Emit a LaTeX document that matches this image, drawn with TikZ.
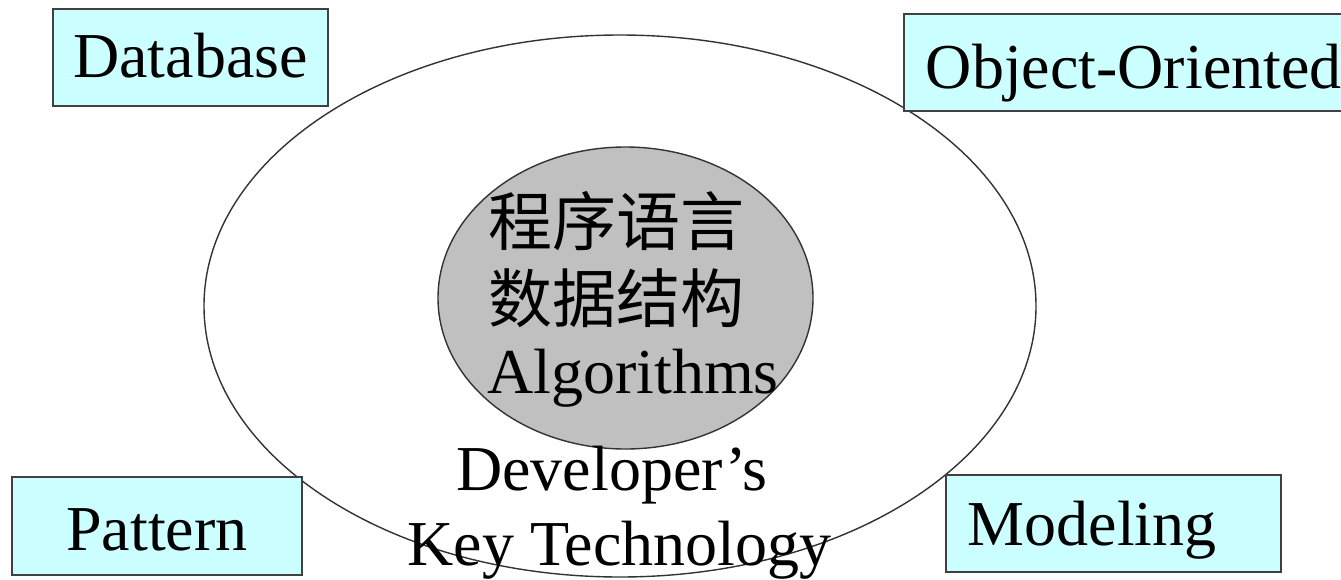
\documentclass[tikz,border=0pt]{standalone}
\usepackage{fontspec}
\setmainfont{Liberation Serif}
\newfontfamily\cjk{Noto Sans CJK SC}
\usetikzlibrary{shapes.geometric}
\definecolor{boxfill}{HTML}{CCFFFF}
\definecolor{boxline}{HTML}{404040}
\definecolor{corefill}{HTML}{C0C0C0}
\definecolor{ringline}{HTML}{333333}
\tikzset{
  big/.style={font=\fontsize{64pt}{77pt}\selectfont},
  topicbox/.style={big, draw=boxline, line width=1.6pt, fill=boxfill,
    rectangle, inner ysep=0pt},
  ring/.style={ellipse, draw=ringline, line width=1.4pt, inner sep=0pt},
  line/.style={big, inner sep=0pt},
}
\begin{document}
\begin{tikzpicture}[x=1pt, y=-1pt]
  \useasboundingbox (0,0) rectangle (1341,579);
  \clip (0,0) rectangle (1341,579);

  % outer ring and inner core
  \node[ring, minimum width=832pt, minimum height=542pt] (outer) at (620,306) {};
  \node[ring, fill=corefill, minimum width=375pt, minimum height=302pt] (core) at (625.5,298) {};

  % text of the core
  \node[line, anchor=base west] (lang) at (488,245) {\cjk 程序语言};
  \node[line, anchor=base west] (ds) at (488,322) {\cjk 数据结构};
  \node[line, anchor=base west] (algo) at (487,393) {Algorithms};

  % caption of the ring
  \node[line, anchor=base] (dev) at (612,490) {Developer’s};
  \node[line, anchor=base] (key) at (619.5,565) {Key Technology};

  % topic boxes round the ring
  \node[topicbox, anchor=base, inner xsep=0pt, text width=275pt, align=center,
        text height=68pt, text depth=29pt] (db) at (190.5,77) {Database};
  \node[topicbox, anchor=base west, inner xsep=22pt, text width=436pt, align=left,
        text height=74pt, text depth=23pt] (oo) at (903,88) {Object-Oriented};
  \node[topicbox, anchor=base, inner xsep=0pt, text width=290pt, align=center,
        text height=73pt, text depth=25pt] (pat) at (157,550) {Pattern};
  \node[topicbox, anchor=base west, inner xsep=22pt, text width=291pt, align=left,
        text height=70pt, text depth=27pt] (mod) at (945,545) {Modeling};
\end{tikzpicture}
\end{document}
